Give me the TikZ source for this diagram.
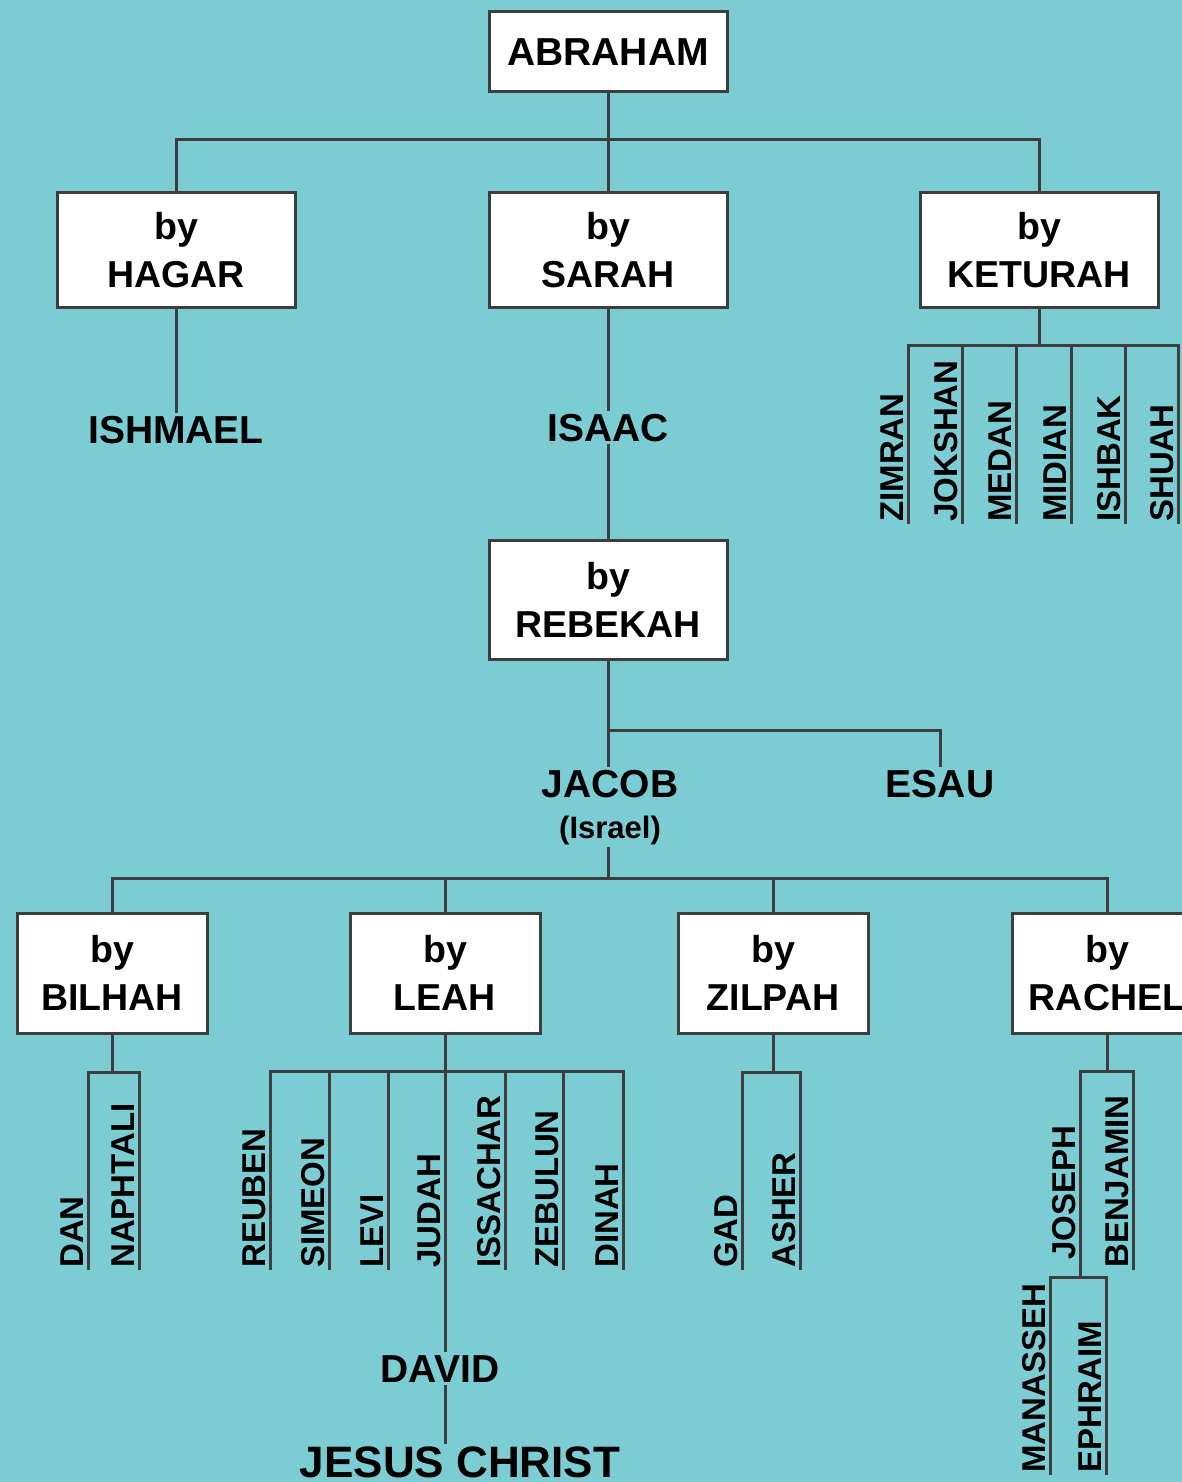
\documentclass[tikz,border=0pt]{standalone}
\usepackage{fontspec}
\setmainfont{Liberation Sans}
\usetikzlibrary{positioning}

\definecolor{sea}{RGB}{124,204,212}
\definecolor{wire}{RGB}{62,62,62}

\tikzset{
  wife/.style={draw=wire, line width=3pt, fill=white, align=center, inner sep=0pt,
    minimum width=238pt, minimum height=114pt, font=\bfseries\fontsize{37.5}{48}\selectfont},
  person/.style={inner sep=4pt, anchor=base, font=\bfseries\fontsize{39}{42}\selectfont},
  son/.style={rotate=90, anchor=south west, inner xsep=0pt, inner ysep=4pt,
    font=\bfseries\fontsize{33}{33}\selectfont},
  link/.style={draw=wire, line width=3pt, line cap=rect}
}

\begin{document}
\begin{tikzpicture}[x=1pt, y=-1pt]
  \clip (0,0) rectangle (1182,1482);
  \fill[sea] (0,0) rectangle (1182,1482);

  % Define nodes
  \node[wife, minimum height=80pt, font=\bfseries\fontsize{39}{42}\selectfont] (Abraham) at (608,52) {ABRAHAM};
  \node[wife] (Hagar) at (176,250) {by\\HAGAR};
  \node[wife] (Sarah) at (608,250) {by\\SARAH};
  \node[wife] (Keturah) at (1039,250) {by\\KETURAH};
  \node[person] (Ishmael) at (176,443) {ISHMAEL};
  \node[person] (Isaac) at (608,441) {ISAAC};
  \node[wife, minimum height=119pt] (Rebekah) at (608,600) {by\\REBEKAH};
  \node[person] (Jacob) at (610,797) {JACOB};
  \node[person, below=10pt of Jacob, font=\bfseries\fontsize{31}{34}\selectfont] (Israel) {(Israel)};
  \node[person] (Esau) at (940,797) {ESAU};
  \node[wife, minimum width=190pt, minimum height=120pt] (Bilhah) at (112,973) {by\\BILHAH};
  \node[wife, minimum width=190pt, minimum height=120pt] (Leah) at (445,973) {by\\LEAH};
  \node[wife, minimum width=190pt, minimum height=120pt] (Zilpah) at (773,973) {by\\ZILPAH};
  \node[wife, minimum width=190pt, minimum height=120pt] (Rachel) at (1107,973) {by\\RACHEL};
  \node[person] (David) at (440,1382) {DAVID};
  \node[person, font=\bfseries\fontsize{44}{48}\selectfont] (Jesus) at (460,1477) {JESUS CHRIST};

  % sons of Keturah
  \node[son] (Zimran) at (908,522) {ZIMRAN};
  \node[son] (Jokshan) at (962,522) {JOKSHAN};
  \node[son] (Medan) at (1016,522) {MEDAN};
  \node[son] (Midian) at (1071,522) {MIDIAN};
  \node[son] (Ishbak) at (1125,522) {ISHBAK};
  \node[son] (Shuah) at (1178,522) {SHUAH};

  % sons of Jacob
  \node[son] (Dan) at (88,1268) {DAN};
  \node[son] (Naphtali) at (139,1268) {NAPHTALI};
  \node[son] (Reuben) at (270,1268) {REUBEN};
  \node[son] (Simeon) at (329,1268) {SIMEON};
  \node[son] (Levi) at (388,1268) {LEVI};
  \node[son] (Judah) at (445,1268) {JUDAH};
  \node[son] (Issachar) at (505,1268) {ISSACHAR};
  \node[son] (Zebulun) at (563,1268) {ZEBULUN};
  \node[son] (Dinah) at (623,1268) {DINAH};
  \node[son] (Gad) at (742,1268) {GAD};
  \node[son] (Asher) at (800,1268) {ASHER};
  \node[son] (Joseph) at (1080,1260) {JOSEPH};
  \node[son] (Benjamin) at (1133,1268) {BENJAMIN};
  \node[son] (Manasseh) at (1050,1473) {MANASSEH};
  \node[son] (Ephraim) at (1106,1473) {EPHRAIM};

  % Define edges
  \coordinate (Abar) at (608,140);
  \draw[link] (Abraham) -- (Sarah);
  \draw[link] (Hagar) |- (Abar) -| (Keturah);
  \draw[link] (Hagar) -- (Ishmael);
  \draw[link] (Sarah) -- (Isaac);
  \draw[link] (Isaac) -- (Rebekah);

  \coordinate (Kbar) at (1039,345);
  \draw[link] (Keturah) -- (Kbar);
  \draw[link] (Zimran.south west) -- (Zimran.south west |- Kbar) -- (Shuah.south west |- Kbar) -- (Shuah.south west);
  \draw[link] (Jokshan.south west) -- (Jokshan.south west |- Kbar);
  \draw[link] (Medan.south west) -- (Medan.south west |- Kbar);
  \draw[link] (Midian.south west) -- (Midian.south west |- Kbar);
  \draw[link] (Ishbak.south west) -- (Ishbak.south west |- Kbar);

  \coordinate (Ebar) at (608,730);
  \draw[link] (Rebekah) -- (Rebekah |- Jacob.north);
  \draw[link] (Ebar) -| (Esau);

  \coordinate (Jbar) at (608,878);
  \draw[link] (Jbar |- Israel.south) -- (Jbar);
  \draw[link] (Bilhah) |- (Jbar) -| (Rachel);
  \draw[link] (Leah) -- (Leah |- Jbar);
  \draw[link] (Zilpah) -- (Zilpah |- Jbar);

  \coordinate (Bbar) at (112,1072);
  \draw[link] (Bilhah) -- (Bbar);
  \draw[link] (Dan.south west) -- (Dan.south west |- Bbar) -- (Naphtali.south west |- Bbar) -- (Naphtali.south west);

  \coordinate (Lbar) at (445,1071);
  \draw[link] (Leah) -- (Lbar);
  \draw[link] (Reuben.south west) -- (Reuben.south west |- Lbar) -- (Dinah.south west |- Lbar) -- (Dinah.south west);
  \draw[link] (Simeon.south west) -- (Simeon.south west |- Lbar);
  \draw[link] (Levi.south west) -- (Levi.south west |- Lbar);
  \draw[link] (Judah.south west |- Lbar) -- (Judah.south west |- David.north);
  \draw[link] (Issachar.south west) -- (Issachar.south west |- Lbar);
  \draw[link] (Zebulun.south west) -- (Zebulun.south west |- Lbar);
  \draw[link] (Judah.south west |- David.south) -- (Judah.south west |- Jesus.north);

  \coordinate (Zbar) at (773,1072);
  \draw[link] (Zilpah) -- (Zbar);
  \draw[link] (Gad.south west) -- (Gad.south west |- Zbar) -- (Asher.south west |- Zbar) -- (Asher.south west);

  \coordinate (Rbar) at (1107,1071);
  \coordinate (Josbar) at (1080,1277);
  \draw[link] (Rachel) -- (Rbar);
  \draw[link] (Josbar) -- (Joseph.south west |- Rbar) -- (Benjamin.south west |- Rbar) -- (Benjamin.south west);
  \draw[link] (Manasseh.south west) -- (Manasseh.south west |- Josbar) -- (Ephraim.south west |- Josbar) -- (Ephraim.south west);
\end{tikzpicture}
\end{document}
